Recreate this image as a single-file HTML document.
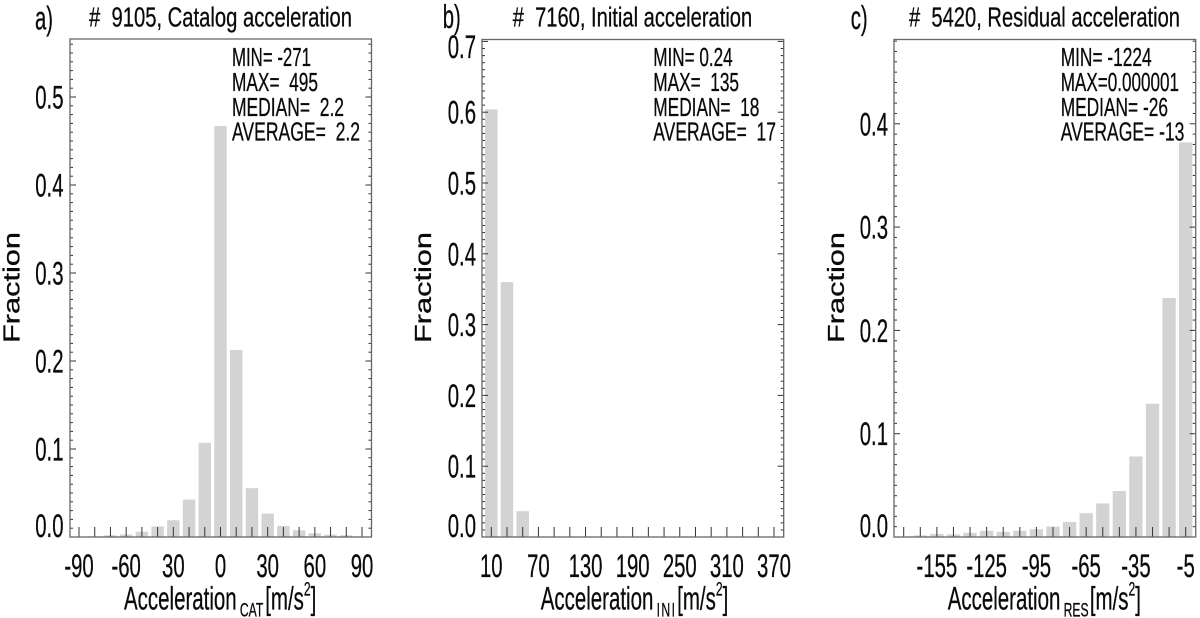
<!DOCTYPE html>
<html lang="en">
<head>
<meta charset="utf-8">
<title>Acceleration histograms</title>
<style>
html,body{margin:0;padding:0;background:#fff;width:1200px;height:618px;overflow:hidden}
svg{display:block}
text{font-family:"Liberation Sans",sans-serif;fill:#0a0a0a;stroke:#0a0a0a;stroke-width:0.3px}
</style>
</head>
<body>
<svg id="chart" width="1200" height="618" viewBox="0 0 1200 618" xmlns="http://www.w3.org/2000/svg">
  <rect x="0" y="0" width="1200" height="618" fill="#fff"/>
  <g id="panel-a"></g>
  <g id="panel-b"></g>
  <g id="panel-c"></g>

  <g>
    <text x="35" y="29.5" font-size="33" textLength="18" lengthAdjust="spacingAndGlyphs">a)</text>
    <text x="89" y="26.7" font-size="27.5" textLength="263" lengthAdjust="spacingAndGlyphs">#&#160;&#160;9105, Catalog acceleration</text>
    <text x="232" y="66" font-size="26" textLength="79" lengthAdjust="spacingAndGlyphs">MIN= -271</text>
    <text x="232" y="91" font-size="26" textLength="86" lengthAdjust="spacingAndGlyphs">MAX=&#160;&#160;495</text>
    <text x="232" y="116" font-size="26" textLength="112" lengthAdjust="spacingAndGlyphs">MEDIAN=&#160;&#160;2.2</text>
    <text x="232" y="140.7" font-size="26" textLength="128" lengthAdjust="spacingAndGlyphs">AVERAGE=&#160;&#160;2.2</text>
    <text transform="translate(19.5,343) rotate(-90)" font-size="23" textLength="111" lengthAdjust="spacingAndGlyphs">Fraction</text>
    <text transform="translate(124,609.5) scale(0.64,1)" font-size="32">Acceleration<tspan font-size="19" dx="5" dy="7">CAT</tspan><tspan dx="3" dy="-7">[m/s</tspan><tspan font-size="19" dy="-14">2</tspan><tspan dy="14">]</tspan></text>
  </g>

  <g>
    <text x="442.7" y="28" font-size="33" textLength="18" lengthAdjust="spacingAndGlyphs">b)</text>
    <text x="512.7" y="26.7" font-size="27.5" textLength="239.5" lengthAdjust="spacingAndGlyphs">#&#160;&#160;7160, Initial acceleration</text>
    <text x="653.3" y="66" font-size="26" textLength="79.3" lengthAdjust="spacingAndGlyphs">MIN= 0.24</text>
    <text x="653.3" y="91" font-size="26" textLength="85.7" lengthAdjust="spacingAndGlyphs">MAX=&#160;&#160;135</text>
    <text x="653.3" y="116" font-size="26" textLength="106" lengthAdjust="spacingAndGlyphs">MEDIAN=&#160;&#160;18</text>
    <text x="653.3" y="140.7" font-size="26" textLength="122.7" lengthAdjust="spacingAndGlyphs">AVERAGE=&#160;&#160;17</text>
    <text transform="translate(431,343) rotate(-90)" font-size="23" textLength="111" lengthAdjust="spacingAndGlyphs">Fraction</text>
    <text transform="translate(540.7,609.5) scale(0.64,1)" font-size="32">Acceleration<tspan font-size="19" dx="5" dy="7" letter-spacing="2.3">INI</tspan><tspan dx="1" dy="-7">[m/s</tspan><tspan font-size="19" dy="-14">2</tspan><tspan dy="14">]</tspan></text>
  </g>

  <g>
    <text x="850.7" y="29" font-size="33" textLength="17" lengthAdjust="spacingAndGlyphs">c)</text>
    <text x="909" y="26.7" font-size="27.5" textLength="271" lengthAdjust="spacingAndGlyphs">#&#160;&#160;5420, Residual acceleration</text>
    <text x="1060.7" y="66" font-size="26" textLength="91" lengthAdjust="spacingAndGlyphs">MIN= -1224</text>
    <text x="1060.7" y="91" font-size="26" textLength="118.3" lengthAdjust="spacingAndGlyphs">MAX=0.000001</text>
    <text x="1060.7" y="116" font-size="26" textLength="107.3" lengthAdjust="spacingAndGlyphs">MEDIAN= -26</text>
    <text x="1060.7" y="140.7" font-size="26" textLength="123.7" lengthAdjust="spacingAndGlyphs">AVERAGE= -13</text>
    <text transform="translate(844,343) rotate(-90)" font-size="23" textLength="111" lengthAdjust="spacingAndGlyphs">Fraction</text>
    <text transform="translate(947.7,609.5) scale(0.64,1)" font-size="32">Acceleration<tspan font-size="19" dx="5" dy="7">RES</tspan><tspan dx="2" dy="-7">[m/s</tspan><tspan font-size="19" dy="-14">2</tspan><tspan dy="14">]</tspan></text>
  </g>
</svg>
<script>
const catCategories = [-90,-80,-70,-60,-50,-40,-30,-20,-10,0,10,20,30,40,50,60,70,80,90];
const catValues = [0,0.0008,0.002,0.003,0.006,0.012,0.019,0.0425,0.107,0.467,0.2125,0.0555,0.0266,0.0125,0.0076,0.0042,0.0027,0.002,0];
const catTickLabels = ['-90','-60','30','0','30','60','90'];
const catYTicks = [0,0.1,0.2,0.3,0.4,0.5];

const iniCategories = [10,30,50,70,90,110,130,150,170,190,210,230,250,270,290,310,330,350,370];
const iniValues = [0.604,0.36,0.0365,0,0,0,0,0,0,0,0,0,0,0,0,0,0,0,0];
const iniTickLabels = ['10','70','130','190','250','310','370'];
const iniYTicks = [0,0.1,0.2,0.3,0.4,0.5,0.6,0.7];

const resCategories = [-175,-165,-155,-145,-135,-125,-115,-105,-95,-85,-75,-65,-55,-45,-35,-25,-15,-5];
const resValues = [0,0.0016,0.003,0.0026,0.004,0.006,0.005,0.006,0.0075,0.010,0.0146,0.023,0.0325,0.0445,0.078,0.129,0.2314,0.382];
const resTickLabels = ['','-155','-125','-95','-65','-35','-5'];
const resYTicks = [0,0.1,0.2,0.3,0.4];

const SVGNS = 'http://www.w3.org/2000/svg';

function make(tag, parent, attrs) {
  const el = document.createElementNS(SVGNS, tag);
  for (const k in attrs) el.setAttribute(k, attrs[k]);
  parent.appendChild(el);
  return el;
}

function drawPanel(id, box, categories, values, tickLabels, yTicks) {
  const g = document.getElementById(id);
  const plotTop = box.top, plotBottom = box.bottom;
  const scaleY = v => plotBottom - v / box.yMax * (plotBottom - plotTop);
  const c0 = categories[0], cN = categories[categories.length - 1];
  const scaleX = v => box.x0 + (v - c0) / (cN - c0) * (box.xN - box.x0);
  const labelBaseline = v => Math.min(plotBottom, Math.max(plotTop + 18.5, scaleY(v) + 11.5));

  // bars
  values.forEach((v, i) => {
    const cx = scaleX(categories[i]);
    const r = make('rect', g, {x: cx - box.barW / 2, y: scaleY(v), width: box.barW, height: Math.max(0, plotBottom - scaleY(v)), fill: '#d3d3d3'});
    
    
  });

  // y minor and major ticks, both sides
  const nMinor = Math.floor(box.yMax * 100 + 1e-6);
  for (let k = 0; k <= nMinor; k++) {
    const y = scaleY(k / 100);
    const len = k % 10 === 0 ? 6 : 3;
    const t1 = make('line', g, {x1: box.left, x2: box.left + len, y1: y, y2: y, stroke: '#333', 'stroke-width': 1});
    
    
    const t2 = make('line', g, {x1: box.right, x2: box.right - len, y1: y, y2: y, stroke: '#333', 'stroke-width': 1});
    
    
  }

  // x ticks
  categories.forEach(c => {
    const x = scaleX(c);
    const t = make('line', g, {x1: x, x2: x, y1: plotBottom, y2: plotBottom - 10, stroke: '#333', 'stroke-width': 1});
    
    
  });

  // frame
  const frame = make('rect', g, {x: box.left, y: plotTop, width: box.right - box.left, height: plotBottom - plotTop, fill: 'none', stroke: '#666', 'stroke-width': 1.3});
  
  

  // y labels
  yTicks.forEach(v => {
    const t = make('text', g, {transform: 'translate(' + box.yLabelX + ',' + labelBaseline(v) + ') scale(0.635,1)', 'font-size': 32, 'text-anchor': 'end'});
    t.textContent = v.toFixed(1);
    
    
  });

  // x labels: every third category
  tickLabels.forEach((s, i) => {
    if (!s) return;
    const x = scaleX(categories[i * 3 + box.labelOffset]);
    const t = make('text', g, {transform: 'translate(' + x + ',577) scale(0.635,1)', 'font-size': 32, 'text-anchor': 'middle'});
    t.textContent = s;
    
    
  });
}

drawPanel('panel-a', {left: 70, right: 371.5, top: 39, bottom: 537, yMax: 0.5659, x0: 79, xN: 362, barW: 12.4, yLabelX: 63.5, labelOffset: 0},
  catCategories, catValues, catTickLabels, catYTicks);
drawPanel('panel-b', {left: 482, right: 783.7, top: 39.5, bottom: 537, yMax: 0.7027, x0: 491.3, xN: 774, barW: 12.4, yLabelX: 476, labelOffset: 0},
  iniCategories, iniValues, iniTickLabels, iniYTicks);
drawPanel('panel-c', {left: 894, right: 1195.7, top: 39.5, bottom: 537, yMax: 0.4816, x0: 903.7, xN: 1185.7, barW: 13.3, yLabelX: 888, labelOffset: -1},
  resCategories, resValues, resTickLabels, resYTicks);
</script>
</body>
</html>
